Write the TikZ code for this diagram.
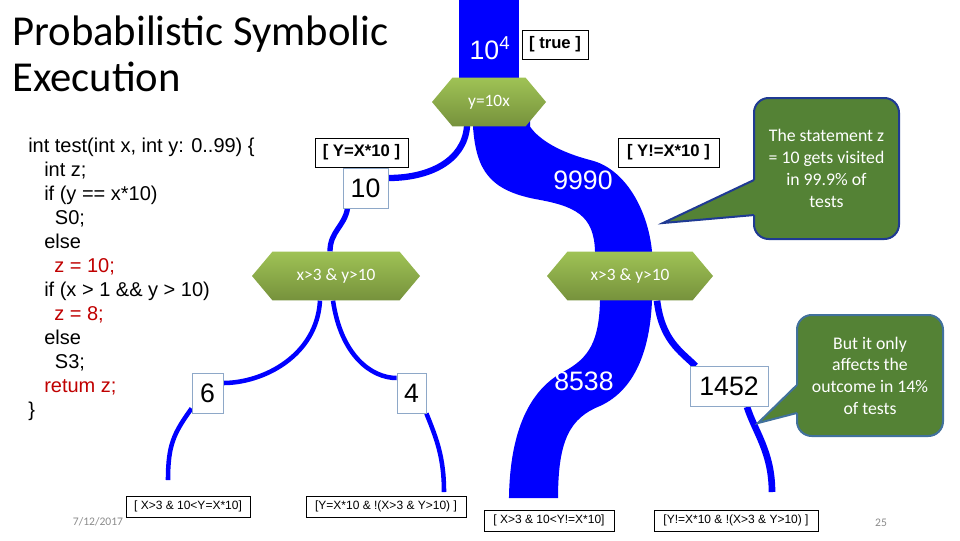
\documentclass[tikz,border=0pt]{standalone}
\usepackage{fontspec}
\setmainfont{Liberation Sans}
\newfontfamily\calibri{Carlito}
\usetikzlibrary{positioning,calc,shapes.symbols,backgrounds}
\definecolor{FlowBlue}{HTML}{0000FF}
\definecolor{HexTop}{HTML}{9FC255}
\definecolor{HexBot}{HTML}{76923C}
\definecolor{NoteGreen}{HTML}{548235}
\definecolor{NoteNavy}{HTML}{1F3A93}
\definecolor{NoteSteel}{HTML}{41719C}
\definecolor{BoxEdge}{HTML}{8EA8C8}
\definecolor{CodeRed}{HTML}{C00000}
\definecolor{DateGray}{HTML}{8C8C8C}
\tikzset{
  cond/.style={signal,signal to=east and west,signal pointer angle=100,top color=HexTop,
    bottom color=HexBot,draw=none,minimum height=36.5pt,inner sep=0pt,text=white,
    font=\calibri\fontsize{13}{15}\selectfont},
  count/.style={draw=BoxEdge,fill=white,line width=.6pt,minimum height=30pt,inner sep=0pt,
    font=\fontsize{20}{22}\selectfont},
  guard/.style={draw=black,fill=white,line width=.7pt,minimum height=21.75pt,inner sep=0pt,
    font=\bfseries\fontsize{12.5}{14}\selectfont},
  pathguard/.style={draw=black,fill=white,line width=.7pt,minimum height=15.75pt,inner sep=0pt,
    font=\fontsize{9}{11}\selectfont},
  note/.style={rounded corners=11pt,fill=NoteGreen,line width=1.5pt,align=center,outer sep=0pt,
    text=white,font=\calibri\fontsize{13.3}{16.3}\selectfont},
  branch/.style={draw=FlowBlue,line width=3.4pt},
  ribbon/.style={fill=FlowBlue},
  flowcount/.style={text=white,font=\fontsize{20}{22}\selectfont},
  footer/.style={text=DateGray,font=\calibri\fontsize{8.7}{10}\selectfont}
}
\begin{document}
\begin{tikzpicture}[x=.75pt,y=-.75pt]
  \useasboundingbox (0,0) rectangle (960,540);
  % title and program
  \node[anchor=north west,inner sep=0pt,align=left,font=\calibri\fontsize{32}{34}\selectfont]
    (title) at (12,16) {Probabilistic Symbolic\\Execution};
  \node[anchor=north west,inner sep=0pt,align=left,font=\fontsize{15}{18}\selectfont]
    (code) at (28,137.5) {int test(int x, int y: 0..99) \{\\
    \hspace*{12pt}int z;\\
    \hspace*{12pt}if (y == x*10)\\
    \hspace*{20pt}S0;\\
    \hspace*{12pt}else\\
    \hspace*{19.5pt}\textcolor{CodeRed}{z = 10;}\\
    \hspace*{12pt}if (x > 1 \&\& y > 10)\\
    \hspace*{19.5pt}\textcolor{CodeRed}{z = 8;}\\
    \hspace*{12pt}else\\
    \hspace*{20pt}S3;\\
    \hspace*{12pt}\textcolor{CodeRed}{retum z;}\\
    \}};

  % decisions
  \node[cond,minimum width=85.5pt] (h0) at (489,102) {y=10x};
  \node[cond,minimum width=126pt] (h1) at (336,276) {x>3 \& y>10};
  \node[cond,minimum width=124.5pt] (h2) at (630,276) {x>3 \& y>10};

  % counts
  \node[flowcount] (total) at (490,48) {10\textsuperscript{4}};
  \node[count,minimum width=33.75pt] (n10) at (365.5,188) {10};
  \node[flowcount] (n9990) at (583,180) {9990};
  \node[count,minimum width=23.25pt] (n6) at (207.5,393) {6};
  \node[count,minimum width=21.75pt] (n4) at (411.5,393) {4};
  \node[flowcount] (n8538) at (584,381) {8538};
  \node[count,minimum width=58.5pt] (n1452) at (729,386.5) {1452};

  % path conditions
  \node[guard,minimum width=49.5pt] (gtrue) at (555,44.5) {[ true ]};
  \node[guard,minimum width=69.75pt] (geq) at (361.5,152.5) {[ Y=X*10 ]};
  \node[guard,minimum width=75.75pt] (gne) at (668.5,152.5) {[ Y!=X*10 ]};
  \node[pathguard,minimum width=93pt] (p1) at (188,506.5) {[ X>3 \& 10<Y=X*10]};
  \node[pathguard,minimum width=120pt] (p2) at (386,506.5) {[Y=X*10 \& !(X>3 \& Y>10) ]};
  \node[pathguard,minimum width=97.5pt] (p3) at (549,520.5) {[ X>3 \& 10<Y!=X*10]};
  \node[pathguard,minimum width=123pt] (p4) at (736,520.5) {[Y!=X*10 \& !(X>3 \& Y>10) ]};

  % remarks
  \node[note,draw=NoteNavy,minimum width=108.75pt,minimum height=105.75pt] (c1) at (826.5,168.5)
    {The statement z\\= 10 gets visited\\in 99.9\% of\\tests};
  \coordinate (t1) at (663,223);
  \fill[NoteGreen] ([yshift=-8.6pt]c1.west) -- (t1) -- ([yshift=-34.9pt]c1.west)
    -- ([xshift=4pt,yshift=-34.9pt]c1.west) -- ([xshift=4pt,yshift=-8.6pt]c1.west) -- cycle;
  \draw[NoteNavy,line width=1.5pt] ([yshift=-8.6pt]c1.west) -- (t1) -- ([yshift=-34.9pt]c1.west);
  \node[note,draw=NoteSteel,minimum width=109.5pt,minimum height=90.75pt] (c2) at (870,375.5)
    {But it only\\affects the\\outcome in 14\%\\of tests};
  \coordinate (t2) at (758,423);
  \fill[NoteGreen] ([yshift=-7.1pt]c2.west) -- (t2) -- ([yshift=-28.1pt]c2.west)
    -- ([xshift=4pt,yshift=-28.1pt]c2.west) -- ([xshift=4pt,yshift=-7.1pt]c2.west) -- cycle;
  \draw[NoteSteel,line width=1.5pt] ([yshift=-7.1pt]c2.west) -- (t2) -- ([yshift=-28.1pt]c2.west);

  \node[footer] (date) at (98,522) {7/12/2017};
  \node[footer] (page) at (881,523) {25};

  % flows
  \coordinate (src) at (489,0);
  \coordinate (e1) at (168,480);
  \coordinate (e2) at (444,492);
  \coordinate (e3) at (533.5,498);
  \coordinate (e4) at (772,492);
  \begin{scope}[on background layer]
    \fill[white] (0,0) rectangle (960,540);
    \draw[FlowBlue,line width=45pt] (src) -- (h0.center);
    % 9990
    \fill[ribbon] ([xshift=-12pt]h0.center) -- ([xshift=-12pt]h0.south)
      .. controls +(3,44) and +(-45,-9) .. (535,199)
      .. controls +(40,7) and +(-1,-36.5) .. ([xshift=-26.25pt]h2.north)
      -- ([xshift=-26.25pt]h2.center) -- ([xshift=16.5pt]h2.center) -- ([xshift=16.5pt]h2.north)
      .. controls +(-4,-41.5) and +(35,8) .. (590,160)
      .. controls +(-30,-8) and +(10,14) .. ([xshift=30.75pt]h0.south)
      -- ([xshift=30.75pt]h0.center) -- cycle;
    % 8538
    \fill[ribbon] ([xshift=-22.5pt]h2.center) -- ([xshift=-22.5pt]h2.south)
      .. controls +(-1,39.5) and +(27,-14) .. (563,372)
      .. controls +(-33,18) and +(1,-68) .. ([xshift=-18.4pt]e3)
      -- ([xshift=18.4pt]e3)
      .. controls +(0,-58) and +(-30,12) .. (600,406)
      .. controls +(35,-16) and +(-2,49.5) .. ([xshift=16.5pt]h2.south)
      -- ([xshift=16.5pt]h2.center) -- cycle;
    \draw[branch,line width=4.7pt] ([xshift=-16.5pt]h0.center) -- ([xshift=-16.5pt]h0.south)
      .. controls +(-3,35) and +(40,0) .. ([yshift=7.5pt]n10.east);
    \draw[branch,line width=4pt] ([xshift=-13.5pt]n10.south)
      .. controls +(-3,18) and +(0,-20) .. ([xshift=-4.5pt]h1.north);
    \draw[branch] ([xshift=-12pt]h1.south) .. controls +(-3,55) and +(40,0) .. ([yshift=7.5pt]n6.east);
    \draw[branch] ([xshift=-2.25pt]h1.south) .. controls +(8,55) and +(-25,0) .. ([yshift=11.25pt]n4.west);
    \draw[branch] ([yshift=3.75pt]n6.south west) .. controls +(-18,25) and +(0,-35) .. (e1);
    \draw[branch] (n4.south east) .. controls +(10,25) and +(0,-35) .. (e2);
    \draw[branch,line width=5pt] ([xshift=20.25pt]h2.south)
      .. controls +(5,40) and +(-15,-15) .. ([xshift=4.5pt]n1452.north west);
    \draw[branch,line width=5pt] ([xshift=13.5pt]n1452.south) .. controls +(8,25) and +(0,-40) .. (e4);
  \end{scope}
\end{tikzpicture}
\end{document}
